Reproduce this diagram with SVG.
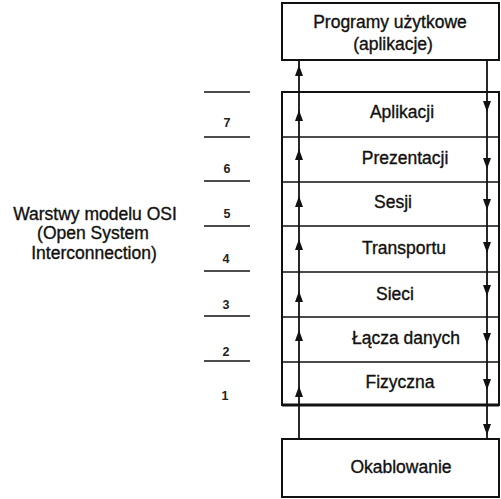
<svg xmlns="http://www.w3.org/2000/svg" xmlns:xlink="http://www.w3.org/1999/xlink" width="501" height="499" viewBox="0 0 501 499">
  <defs>
    <style>
      .box { fill: #fff; stroke: #111; stroke-width: 2; }
      .sep { stroke: #111; stroke-width: 1.7; }
      .tick { stroke: #111; stroke-width: 1.6; }
      .flow { stroke: #111; stroke-width: 1.8; fill: none; }
      .lbl { font-family: "Liberation Sans", Arial, sans-serif; font-size: 17.5px; fill: #111; stroke: #111; stroke-width: 0.35; text-anchor: middle; }
      .num { font-family: "Liberation Sans", Arial, sans-serif; font-size: 12.5px; font-weight: bold; fill: #222; text-anchor: middle; }
    </style>
    <!-- arrowheads drawn with their tip at (0,0) -->
    <path id="up" d="M0,0 L4,11 L-4,11 Z" fill="#111"/>
    <path id="down" d="M0,0 L4,-11 L-4,-11 Z" fill="#111"/>
  </defs>

  <rect width="501" height="499" fill="#fff"/>

  <!-- layer scale on the left -->
  <g id="scale">
    <line class="tick" x1="204" y1="92" x2="250" y2="92"/>
    <line class="tick" x1="204" y1="137" x2="250" y2="137"/>
    <line class="tick" x1="204" y1="181" x2="250" y2="181"/>
    <line class="tick" x1="204" y1="226" x2="250" y2="226"/>
    <line class="tick" x1="204" y1="271" x2="250" y2="271"/>
    <line class="tick" x1="204" y1="316" x2="250" y2="316"/>
    <line class="tick" x1="204" y1="361" x2="250" y2="361"/>
    <text class="num" x="227" y="127">7</text>
    <text class="num" x="227" y="173">6</text>
    <text class="num" x="227" y="218">5</text>
    <text class="num" x="226" y="263">4</text>
    <text class="num" x="226" y="309">3</text>
    <text class="num" x="226" y="356">2</text>
    <text class="num" x="225" y="400">1</text>
  </g>

  <g id="caption">
    <text class="lbl" x="95" y="220">Warstwy modelu OSI</text>
    <text class="lbl" x="93" y="239">(Open System</text>
    <text class="lbl" x="94" y="259">Interconnection)</text>
  </g>

  <g id="programs">
    <rect class="box" x="282" y="3" width="217" height="57"/>
    <text class="lbl" x="390" y="28">Programy użytkowe</text>
    <text class="lbl" x="393" y="50">(aplikacje)</text>
  </g>

  <g id="osi-stack">
    <rect class="box" x="282" y="92" width="217" height="313"/>
    <line class="sep" x1="282" y1="137" x2="499" y2="137"/>
    <line class="sep" x1="282" y1="182" x2="499" y2="182"/>
    <line class="sep" x1="282" y1="226" x2="499" y2="226"/>
    <line class="sep" x1="282" y1="272" x2="499" y2="272"/>
    <line class="sep" x1="282" y1="317" x2="499" y2="317"/>
    <line class="sep" x1="282" y1="362" x2="499" y2="362"/>
    <line x1="282" y1="405" x2="499" y2="405" stroke="#111" stroke-width="3"/>
  </g>

  <g id="layer-7"><text class="lbl" x="402" y="118">Aplikacji</text></g>
  <g id="layer-6"><text class="lbl" x="405" y="164">Prezentacji</text></g>
  <g id="layer-5"><text class="lbl" x="393" y="208">Sesji</text></g>
  <g id="layer-4"><text class="lbl" x="404" y="254">Transportu</text></g>
  <g id="layer-3"><text class="lbl" x="395" y="300">Sieci</text></g>
  <g id="layer-2"><text class="lbl" x="406" y="344">Łącza danych</text></g>
  <g id="layer-1"><text class="lbl" x="400" y="388">Fizyczna</text></g>

  <g id="cabling">
    <rect class="box" x="282" y="439" width="217" height="58"/>
    <text class="lbl" x="401" y="473">Okablowanie</text>
  </g>

  <g id="connectors">
    <line class="flow" x1="299" y1="60" x2="299" y2="439"/>
    <line class="flow" x1="487" y1="60" x2="487" y2="439"/>
    <!-- upward flow on the left -->
    <use xlink:href="#up" x="299" y="65"/>
    <use xlink:href="#up" x="299" y="110"/>
    <use xlink:href="#up" x="299" y="149"/>
    <use xlink:href="#up" x="299" y="196"/>
    <use xlink:href="#up" x="299" y="239"/>
    <use xlink:href="#up" x="299" y="291"/>
    <use xlink:href="#up" x="299" y="330"/>
    <use xlink:href="#up" x="299" y="386"/>
    <!-- downward flow on the right -->
    <use xlink:href="#down" x="487" y="112"/>
    <use xlink:href="#down" x="487" y="169"/>
    <use xlink:href="#down" x="487" y="210"/>
    <use xlink:href="#down" x="487" y="253"/>
    <use xlink:href="#down" x="487" y="296"/>
    <use xlink:href="#down" x="487" y="344"/>
    <use xlink:href="#down" x="487" y="390"/>
    <use xlink:href="#down" x="487" y="435"/>
  </g>
</svg>
